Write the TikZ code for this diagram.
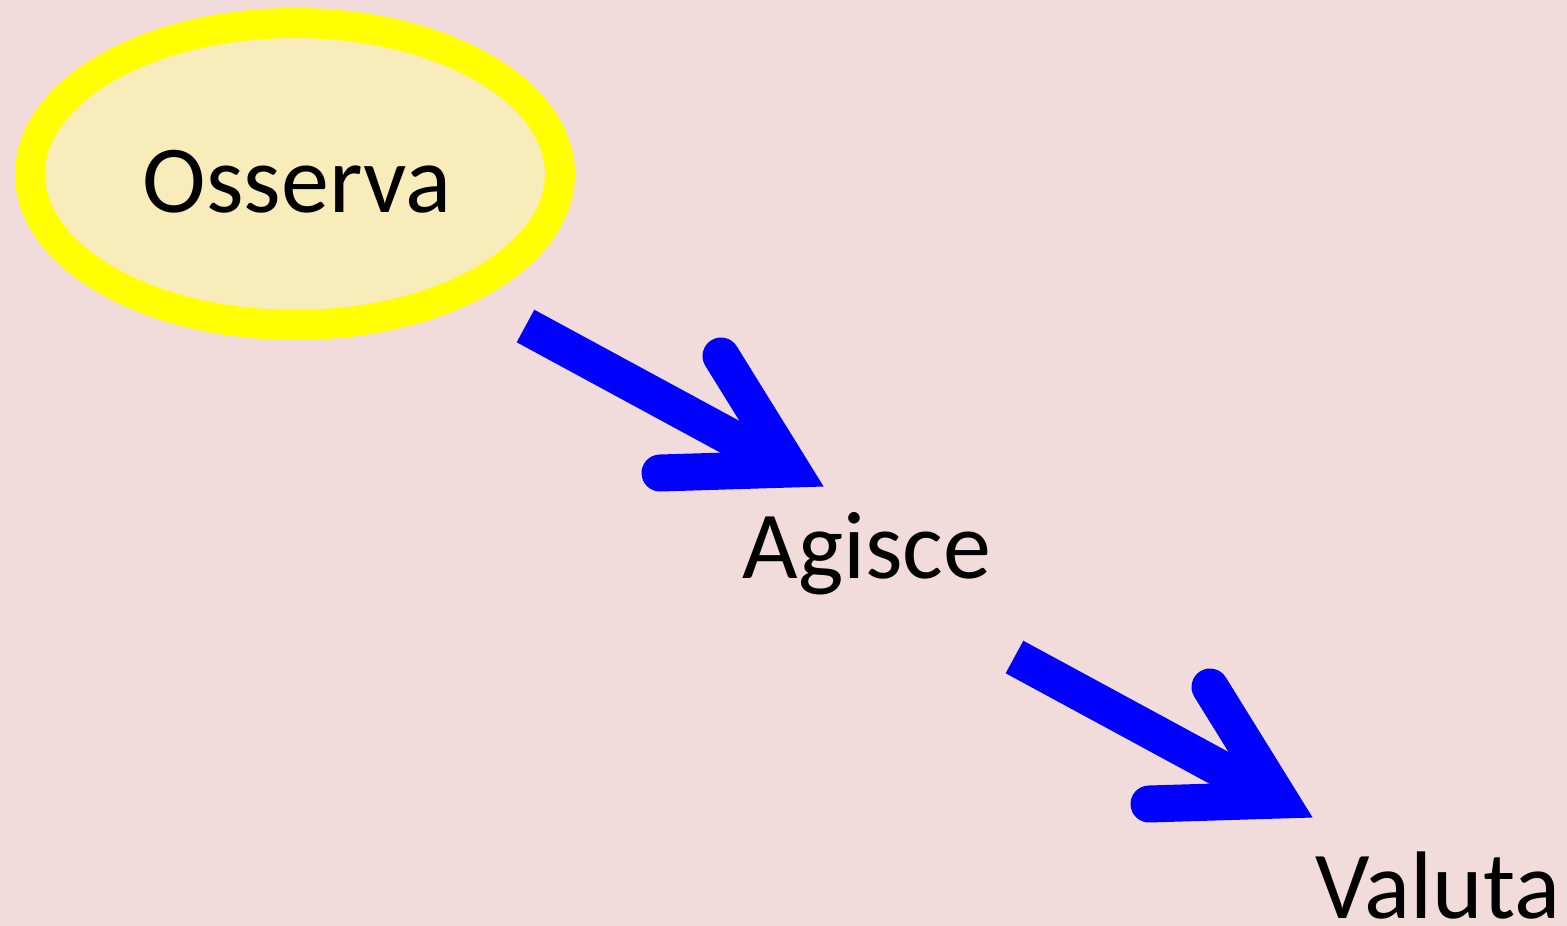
\documentclass[tikz,border=0pt]{standalone}
\usepackage{fontspec}
\setmainfont{Carlito}
\usetikzlibrary{shapes.geometric}
\definecolor{bgpink}{HTML}{F2DCDB}
\definecolor{ovalfill}{HTML}{F8ECBA}
\definecolor{ovalline}{HTML}{FFFF00}
\definecolor{arrowblue}{HTML}{0000FF}
\tikzset{
  oval/.style={ellipse, draw=ovalline, fill=ovalfill, line width=30pt, inner sep=0pt},
  label text/.style={anchor=base, inner sep=0pt, font=\fontsize{96}{110}\selectfont, text=black},
  shaft/.style={draw=arrowblue, line width=37pt, line cap=butt},
  barbs/.style={draw=arrowblue, line width=37pt, line cap=round, line join=miter, miter limit=10},
}
\begin{document}
\begin{tikzpicture}[x=1pt, y=-1pt]
  \useasboundingbox[fill=bgpink] (0,0) rectangle (1567,926);
  % oval
  \node[oval, minimum width=530pt, minimum height=302pt] (oval) at (295,174) {};
  \node[label text] (osserva) at (297,212) {Osserva};
  \node[label text] (agisce) at (867,578) {Agisce};
  \node[label text] (valuta) at (1438,918) {Valuta};
  % arrow 1
  \coordinate (a1s) at (525.5,326);
  \coordinate (a1e) at (782,465);
  \coordinate (h1a) at (721,356);
  \coordinate (h1t) at (791,469);
  \coordinate (h1b) at (660,473);
  \draw[shaft] (a1s) -- (a1e);
  \draw[barbs] (h1a) -- (h1t) -- (h1b);
  % arrow 2
  \coordinate (a2s) at (1014.5,657);
  \coordinate (a2e) at (1271,796);
  \coordinate (h2a) at (1210,687);
  \coordinate (h2t) at (1280,800);
  \coordinate (h2b) at (1149,804);
  \draw[shaft] (a2s) -- (a2e);
  \draw[barbs] (h2a) -- (h2t) -- (h2b);
\end{tikzpicture}
\end{document}
